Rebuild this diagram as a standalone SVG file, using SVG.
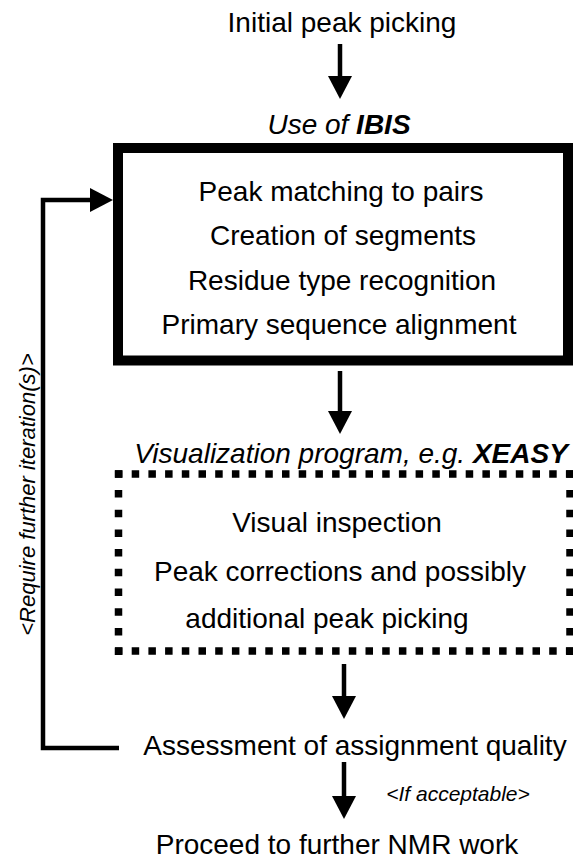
<svg xmlns="http://www.w3.org/2000/svg" width="573" height="863" viewBox="0 0 573 863">
  <style>
    .t { font-family: "Liberation Sans", Arial, sans-serif; font-size: 28px; fill: #000; text-anchor: middle; }
    .i { font-style: italic; }
    .b { font-weight: bold; }
    .line { stroke: #000; stroke-width: 4.5; fill: none; }
    .dots { stroke: #000; stroke-width: 7.5; fill: none; }
  </style>
  <defs>
    <!-- triangular head whose base sits at the end of the shaft -->
    <marker id="head" viewBox="0 0 23 24" refX="0" refY="12" markerWidth="23" markerHeight="24" markerUnits="userSpaceOnUse" orient="auto">
      <path d="M0,0 L23,12 L0,24 Z" fill="#000"/>
    </marker>
  </defs>
  <rect width="573" height="863" fill="#fff"/>

  <g id="initial">
    <text class="t" x="342" y="32">Initial peak picking</text>
  </g>

  <g id="ibis">
    <text class="t i" x="339" y="134">Use of <tspan class="b">IBIS</tspan></text>
    <rect x="118" y="148" width="450" height="212.5" fill="none" stroke="#000" stroke-width="10"/>
    <text class="t" x="341" y="201">Peak matching to pairs</text>
    <text class="t" x="343" y="245">Creation of segments</text>
    <text class="t" x="342" y="290">Residue type recognition</text>
    <text class="t" x="339" y="334">Primary sequence alignment</text>
  </g>

  <g id="xeasy">
    <text class="t i" x="351" y="463">Visualization program, e.g. <tspan class="b">XEASY</tspan></text>
    <line class="dots" x1="115" y1="474" x2="573" y2="474" stroke-dasharray="7.5 9.2"/>
    <line class="dots" x1="115" y1="651" x2="573" y2="651" stroke-dasharray="7.5 9.2"/>
    <line class="dots" x1="118.5" y1="470.3" x2="118.5" y2="655" stroke-dasharray="7.5 12.2"/>
    <line class="dots" x1="570" y1="470.3" x2="570" y2="655" stroke-dasharray="7.5 12.2"/>
    <text class="t" x="337" y="532">Visual inspection</text>
    <text class="t" x="340" y="581">Peak corrections and possibly</text>
    <text class="t" x="327" y="628">additional peak picking</text>
  </g>

  <g id="assessment">
    <text class="t" x="355" y="755">Assessment of assignment quality</text>
  </g>

  <g id="proceed">
    <text class="t" x="337" y="854">Proceed to further NMR work</text>
  </g>

  <g id="connectors">
    <line class="line" x1="340" y1="44" x2="340" y2="76" marker-end="url(#head)"/>
    <line class="line" x1="340" y1="371" x2="340" y2="411" marker-end="url(#head)"/>
    <line class="line" x1="344" y1="664" x2="344" y2="696" marker-end="url(#head)"/>
    <line class="line" x1="344" y1="762" x2="344" y2="796" marker-end="url(#head)"/>
    <polyline class="line" points="119,748 43,748 43,200 90,200" marker-end="url(#head)"/>
    <text class="t i" style="font-size:21px" x="458" y="801">&lt;If acceptable&gt;</text>
    <text class="t i" style="font-size:22px" transform="translate(35,494.5) rotate(-90)">&lt;Require further iteration(s)&gt;</text>
  </g>
</svg>
